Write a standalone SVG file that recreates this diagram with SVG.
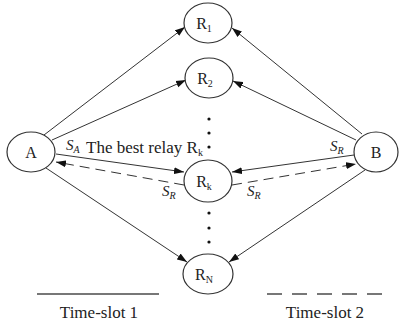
<svg xmlns="http://www.w3.org/2000/svg" width="400" height="326" viewBox="0 0 400 326">
  <style>
    .node ellipse { fill: #fff; stroke: #333; stroke-width: 1.2; }
    .lbl { font-family: "Liberation Serif", "Times New Roman", serif; font-size: 16px; fill: #222; }
    .big { font-size: 17px; }
    .sub { font-size: 10px; }
    .sym { font-family: "Liberation Serif", "Times New Roman", serif; font-size: 15px; font-style: italic; fill: #222; }
    .symsub { font-size: 10px; font-style: italic; }
    .link { stroke: #333; stroke-width: 1; fill: none; marker-end: url(#arrow); }
    .dash { stroke-dasharray: 10 6; }
    .legend { stroke: #777; stroke-width: 2; }
  </style>
  <defs>
    <marker id="arrow" markerUnits="userSpaceOnUse" markerWidth="10" markerHeight="8" refX="10" refY="4" orient="auto">
      <path d="M0,0.5 L10,4 L0,7.5 z" fill="#111"/>
    </marker>
  </defs>
  <rect width="400" height="326" fill="#fff"/>

  <!-- connectors -->
  <g id="connectors">
    <line class="link" x1="44" y1="135" x2="185" y2="27"/>
    <line class="link" x1="52" y1="140" x2="186" y2="80"/>
    <line class="link" x1="56" y1="154" x2="184" y2="172"/>
    <line class="link dash" x1="184" y1="185" x2="56" y2="162"/>
    <line class="link" x1="46" y1="168" x2="187" y2="262"/>
    <line class="link" x1="362" y1="134" x2="232" y2="28"/>
    <line class="link" x1="356" y1="140" x2="233" y2="81"/>
    <line class="link" x1="354" y1="155" x2="232" y2="172"/>
    <line class="link dash" x1="232" y1="185" x2="356" y2="164"/>
    <line class="link" x1="365" y1="170" x2="229" y2="262"/>
  </g>

  <!-- continuation dots between relays -->
  <g id="dots" fill="#111">
    <circle cx="209" cy="119" r="1.6"/>
    <circle cx="209" cy="133" r="1.6"/>
    <circle cx="209" cy="147" r="1.6"/>
    <circle cx="209" cy="213" r="1.6"/>
    <circle cx="209" cy="228" r="1.6"/>
    <circle cx="209" cy="242" r="1.6"/>
  </g>

  <!-- nodes -->
  <g id="node-A" class="node">
    <ellipse cx="31" cy="152" rx="24" ry="20"/>
    <text class="lbl" x="31" y="158" text-anchor="middle">A</text>
  </g>
  <g id="node-B" class="node">
    <ellipse cx="376" cy="152" rx="22" ry="20"/>
    <text class="lbl" x="376" y="158" text-anchor="middle">B</text>
  </g>
  <g id="node-R1" class="node">
    <ellipse cx="208" cy="23" rx="24" ry="20"/>
    <text class="lbl" x="204" y="29" text-anchor="middle">R<tspan class="sub" dy="3">1</tspan></text>
  </g>
  <g id="node-R2" class="node">
    <ellipse cx="209" cy="78" rx="24" ry="20"/>
    <text class="lbl" x="205" y="84" text-anchor="middle">R<tspan class="sub" dy="3">2</tspan></text>
  </g>
  <g id="node-Rk" class="node">
    <ellipse cx="208" cy="181" rx="24" ry="21"/>
    <text class="lbl" x="204" y="187" text-anchor="middle">R<tspan class="sub" dy="3">k</tspan></text>
  </g>
  <g id="node-RN" class="node">
    <ellipse cx="208" cy="274" rx="25" ry="20"/>
    <text class="lbl" x="204" y="280" text-anchor="middle">R<tspan class="sub" dy="3">N</tspan></text>
  </g>

  <!-- link labels -->
  <g id="labels">
    <text class="sym" x="66" y="150">S<tspan class="symsub" dy="3">A</tspan></text>
    <text class="lbl big" x="86" y="153">The best relay R<tspan class="sub" dy="3">k</tspan></text>
    <text class="sym" x="162" y="196">S<tspan class="symsub" dy="3">R</tspan></text>
    <text class="sym" x="247" y="196">S<tspan class="symsub" dy="3">R</tspan></text>
    <text class="sym" x="330" y="151">S<tspan class="symsub" dy="3">R</tspan></text>
  </g>

  <!-- legend -->
  <g id="legend">
    <line class="legend" x1="37" y1="294" x2="159" y2="294"/>
    <line class="legend" x1="267" y1="294" x2="387" y2="294" stroke-dasharray="15 10"/>
    <text class="lbl big" x="99" y="318" text-anchor="middle">Time-slot 1</text>
    <text class="lbl big" x="325" y="318" text-anchor="middle">Time-slot 2</text>
  </g>
</svg>
